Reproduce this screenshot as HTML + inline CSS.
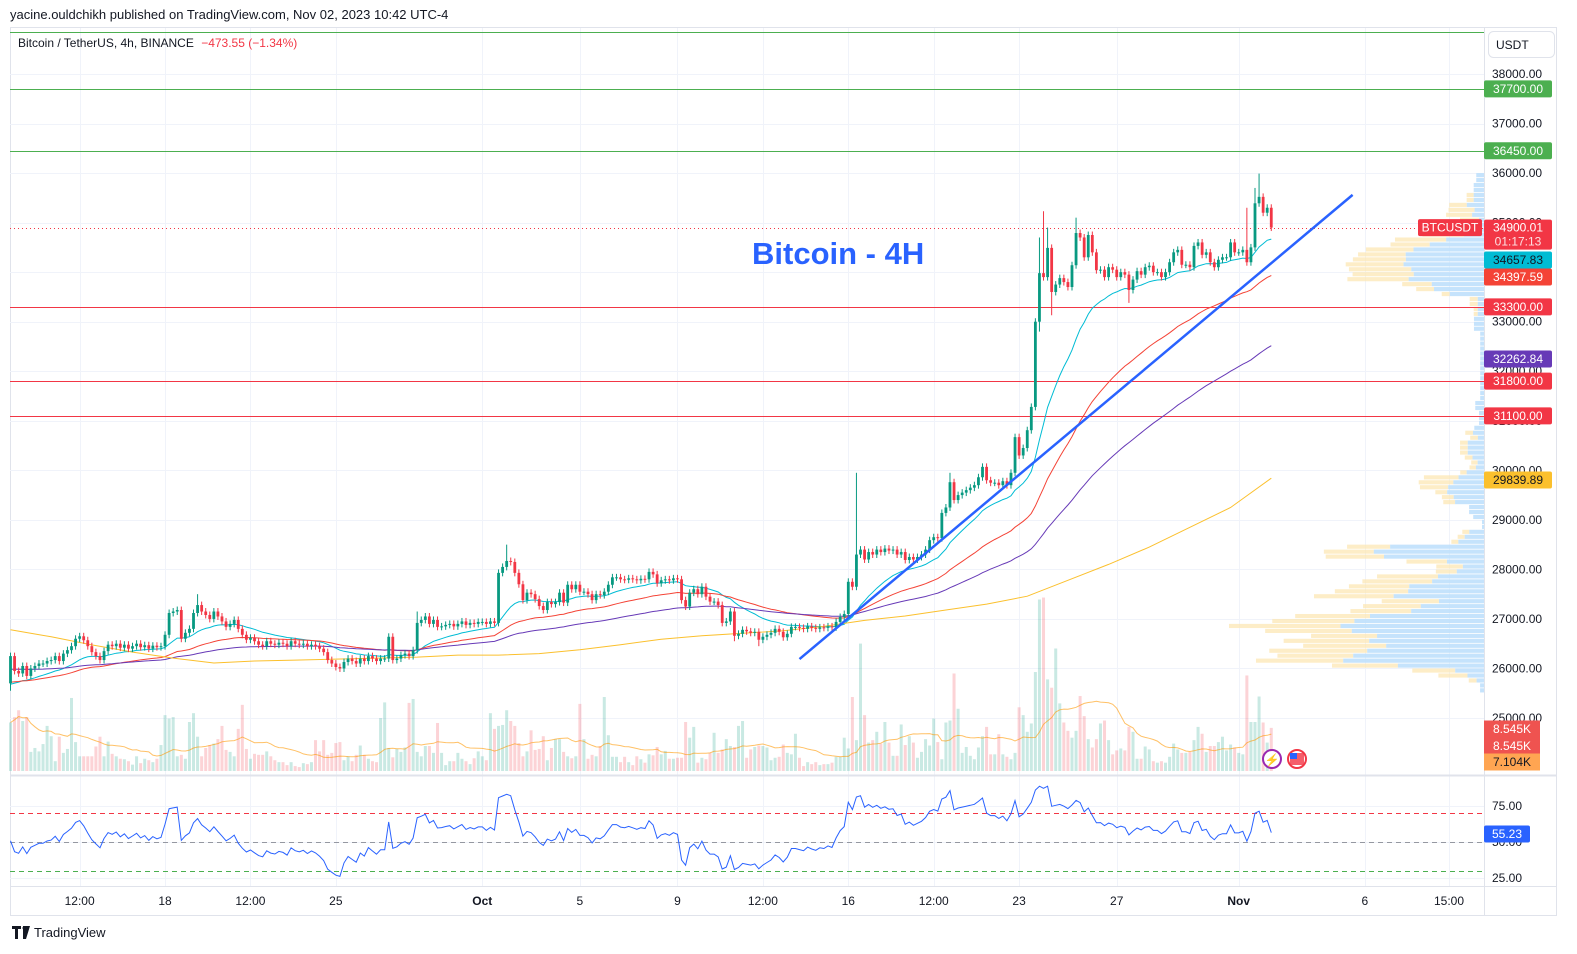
<!DOCTYPE html>
<html><head><meta charset="utf-8"><style>
html,body{margin:0;padding:0;background:#fff;}
svg{display:block;font-family:"Liberation Sans",Arial,sans-serif;}
</style></head><body>
<svg id="chart" width="1577" height="954" viewBox="0 0 1577 954" xmlns="http://www.w3.org/2000/svg">
<rect x="0" y="0" width="1577" height="954" fill="#fff"/>
<text x="10" y="19" font-size="13" fill="#131722">yacine.ouldchikh published on TradingView.com, Nov 02, 2023 10:42 UTC-4</text>
<rect x="10.5" y="27.5" width="1546" height="888" fill="none" stroke="#e0e3eb"/>
<g id="grid"></g>
<g id="profile"></g>
<g id="vol"></g>
<g id="hl"></g>
<g id="ma"></g>
<g id="candles"></g>
<g id="rsi"></g>
<g id="axes"></g>
<text x="18" y="47" font-size="12" fill="#131722">Bitcoin / TetherUS, 4h, BINANCE <tspan fill="#f23645" dx="4">−473.55 (−1.34%)</tspan></text>
<text x="752" y="264" font-size="31" font-weight="bold" fill="#2962ff">Bitcoin - 4H</text>
<g><rect x="1488.5" y="31.5" width="66" height="26" rx="5" fill="#fff" stroke="#e0e3eb"/><text x="1496" y="49" font-size="12" fill="#131722">USDT</text></g>
<g><path d="M12 926h9v3h-3v10h-3v-10h-3z M23 926h3l4 0-4 13h-3z" fill="#131722"/><circle cx="24" cy="928" r="1.5" fill="#131722"/><text x="34" y="937" font-size="13" fill="#131722">TradingView</text></g>
</svg>
<script>
const closes=[
26250,25950,25900,26050,25850,26000,26050,26100,26100,26150,
26170,26250,26150,26300,26370,26450,26600,26650,26570,26450,
26330,26250,26170,26350,26480,26450,26500,26420,26480,26400,
26450,26500,26430,26470,26400,26460,26430,26450,26680,27120,
27150,27180,26600,26720,26800,27120,27280,27150,27080,27000,
27150,27050,26950,26840,26900,26980,26800,26680,26580,26620,
26550,26480,26450,26550,26500,26480,26520,26500,26450,26550,
26500,26480,26500,26450,26480,26450,26400,26330,26170,26100,
26030,26000,26130,26200,26150,26100,26200,26150,26250,26200,
26150,26200,26200,26640,26170,26200,26270,26300,26250,26370,
26920,26980,27050,26900,26980,26840,26850,26880,26900,26850,
26900,26950,26880,26920,26900,26940,26940,26900,26950,26920,
27930,28050,28170,28150,27930,27700,27380,27530,27500,27400,
27260,27180,27340,27300,27340,27530,27330,27690,27600,27690,
27550,27550,27500,27380,27500,27480,27550,27690,27840,27840,
27800,27790,27820,27800,27780,27810,27800,27950,27900,27720,
27780,27800,27780,27820,27800,27380,27250,27530,27600,27500,
27650,27450,27350,27350,27280,26920,26950,27150,26660,26700,
26780,26750,26720,26740,26580,26640,26680,26720,26800,26740,
26630,26700,26840,26840,26820,26800,26850,26820,26800,26830,
26820,26850,26830,26940,27040,27100,27750,27650,28300,28400,
28200,28350,28300,28400,28350,28420,28380,28400,28300,28350,
28190,28250,28200,28250,28300,28400,28590,28650,28630,29140,
29250,29760,29400,29500,29550,29600,29650,29700,29860,30070,
29800,29750,29750,29700,29780,29700,29950,30670,30300,30450,
30810,31280,33000,33980,33900,34490,33600,33750,33880,33800,
33700,34140,34790,34700,34300,34750,34400,34040,34050,33900,
34100,34050,33900,34000,33950,33640,33850,34020,33950,34100,
34130,34000,34000,33900,34000,34200,34400,34450,34150,34150,
34100,34530,34600,34350,34400,34200,34100,34250,34300,34300,
34600,34400,34400,34450,34200,34500,35390,35520,35200,35300,34900];
const firstOpen=25700;
const spikeHighIdx=[46,100,122,208,231,253,254,255,262,304,306,307];
const spikeHighVal=[27500,27150,28500,29950,29950,34700,35230,34900,35100,35300,35700,35990];
const spikeLowIdx=[0,178,184,253,256,275];
const spikeLowVal=[25550,26550,26450,32800,33130,33380];
const volumes=[
9.9,11,12.4,10.2,11,3.9,4.7,4,5.5,9.2,
7.1,2,7,3.7,4.5,14.9,5.9,3,3,3,
3,5,7,3,6,3.5,3,2.5,2.4,2,1.3,
3,1.6,2.5,2.2,1.8,2.5,5.3,11.4,10.7,11,
3,3.3,2.5,10,11.8,7,3,4.7,5.3,5.6,
6.5,9.2,4.3,3.9,3,8.6,13.5,4.5,2.5,3.5,
3.3,3.3,4,3,2.2,1.8,1.8,1.2,1.8,1,
0.8,1.6,1.4,1.8,6.3,4,6.3,3.3,3.7,5.7,
5.9,2.2,3,2,3.3,5.2,3.3,2.5,2,1.8,
10.8,14,4.7,2.8,4.5,3.9,4.8,13.9,14.7,3.9,
3,5.1,5.1,3.7,9.8,3.7,1.2,2,2,3.7,2.5,
2,1.4,2.6,4,3,2.2,11.8,8.6,9.2,9.4,
12.4,10.2,9.2,5.7,3,4,8.3,4.3,4.5,7.1,
2.2,4.7,6.5,6.5,3.9,3,2.6,3,13.7,6.5,
2.5,3.3,3,5.1,15.1,7.3,2.9,2.9,1.8,2.9,
1.8,1.2,3,
2.4,1.7,3.4,3.2,4.9,3.4,4.1,2.5,2.5,2.7,
2.7,10,6.8,9,1.7,2.7,2.4,3.7,7.8,3.7,
4.4,6.5,5.1,4.9,9.2,10.2,2.7,4.4,4.9,5.2,
5.1,4.8,2.2,2.7,2.9,5.4,3.7,3.4,7.6,2.7,
1,1.8,1.4,1.8,1.2,1.4,1.4,1.7,2.9,2.9,
6.8,4.6,15.1,6.3,26,11.4,5.8,6.3,8,5.6,
10,5.8,3.1,3.1,9.5,5.3,7.1,5.8,2.7,3.9,
6.5,5.2,10.7,5.9,2.4,9.9,10.3,19.9,12.7,3.7,
4.9,3.1,2.4,4.8,7.1,9,3.4,3.4,7.5,3.4,
2.9,2.4,3.7,13,11.4,8,9.7,20.2,35,35.4,
18.7,17,25,13.8,9.9,8.2,6.8,8.2,15.3,11.2,
6.5,4.8,6.5,9.7,10.3,6.3,3.4,4.2,4.6,4.2,
9,8,2.5,2.5,5,4.4,2,1.7,2,1.7,
2.9,5.6,4.4,3.7,3.7,3.9,6.3,9,7.6,3.9,
5.1,5.1,5.9,7,4.2,5.4,4.8,3.7,3.4,19.5,
10,10,15.2,9.9,5.8,8.8];
const ma200Idx=[0,10,20,30,40,50,60,70,80,90,100,110,120,130,140,150,160,170,180,190,200,210,220,230,240,250,260,270,280,290,300,310];
const ma200Val=[26780,26640,26475,26330,26210,26110,26150,26170,26190,26210,26230,26270,26270,26300,26380,26480,26590,26660,26710,26760,26850,26970,27060,27180,27300,27460,27780,28100,28450,28850,29250,29840];
const emaLens=[20,50,100];
const emaSeeds=[25620,25700,25980];
const emaColors=['#00bcd4','#f44336','#673ab7'];
const trendIdx=[194,330];
const trendPrice=[26190,35560];
const greenLevels=[38850,37700,36450];
const redLevels=[33300,31800,31100];
const lastPrice=34900.01;
const priceTicks=[38000,37000,36000,35000,34000,33000,32000,31000,30000,29000,28000,27000,26000,25000];
const timeLabelIdx=[17,38,59,80,116,140,164,185,206,227,248,272,302,333,353.7];
const timeLabels=['12:00','18','12:00','25','Oct','5','9','12:00','16','12:00','23','27','Nov','6','15:00'];
const rsiTicks=[75,50,25];
const rsiLevels=[70,50,30];
const rsiSeedGain=30, rsiSeedLoss=70;

const NS='http://www.w3.org/2000/svg';
function mk(tag,attrs,parent){const e=document.createElementNS(NS,tag);for(const k in attrs)e.setAttribute(k,attrs[k]);parent.appendChild(e);return e;}
const xOf=i=>10.5+4.067*i;
const yOf=p=>74+(38000-p)*0.04954;
const vY=v=>771-v*4.9;
const rY=r=>842-(r-50)*1.44;
const G=id=>document.getElementById(id);
const N=closes.length;
const opens=closes.map((c,i)=>i?closes[i-1]:firstOpen);
const highs=closes.map((c,i)=>{const k=spikeHighIdx.indexOf(i);return k>=0?spikeHighVal[k]:Math.max(c,opens[i])+70;});
const lows=closes.map((c,i)=>{const k=spikeLowIdx.indexOf(i);return k>=0?spikeLowVal[k]:Math.min(c,opens[i])-70;});

// grid
const grid=G('grid');
timeLabelIdx.forEach((t,k)=>{const x=Math.round(xOf(t))+0.5;
 const l=mk('line',{x1:x,x2:x,y1:28,y2:886,stroke:'#f0f3fa'},grid);
 
 });
priceTicks.forEach(p=>{const y=Math.round(yOf(p))+0.5;
 const l=mk('line',{x1:10,x2:1484,y1:y,y2:y,stroke:'#f0f3fa'},grid);
 
 });
rsiTicks.forEach(r=>{const y=Math.round(rY(r))+0.5;
 const l=mk('line',{x1:10,x2:1484,y1:y,y2:y,stroke:'#f0f3fa'},grid);
 
 });

// volume profile
const prof=G('profile');
const binSize=100,binLo=24900,nb=112;
const up=new Array(nb).fill(0),dn=new Array(nb).fill(0);
for(let i=0;i<N;i++){const v=volumes[i]||3;const lo=Math.floor((lows[i]-binLo)/binSize),hi=Math.floor((highs[i]-binLo)/binSize);
 const cnt=hi-lo+1;for(let b=lo;b<=hi;b++){if(b<0||b>=nb)continue;if(closes[i]>=opens[i])up[b]+=v/cnt;else dn[b]+=v/cnt;}}
let mx=0;for(let b=0;b<nb;b++)mx=Math.max(mx,up[b]+dn[b]);
for(let b=0;b<nb;b++){const tot=(up[b]+dn[b])/mx*255,uw=up[b]/mx*255;if(tot<0.5)continue;
 const y=yOf(binLo+(b+1)*binSize),h=binSize*0.04954-0.8;
 const r1=mk('rect',{x:1484-tot,y:y,width:tot-uw,height:h,fill:'#fce7b4','fill-opacity':0.75},prof);
 
 
 const r2=mk('rect',{x:1484-uw,y:y,width:uw,height:h,fill:'#bbdefb','fill-opacity':0.85},prof);
 
 }

// volume bars
const vol=G('vol');
for(let i=0;i<N;i++){const v=volumes[i]||3;const upc=closes[i]>=opens[i];
 const r=mk('rect',{x:xOf(i)-1.5,y:vY(v),width:3,height:771-vY(v),fill:upc?'#089981':'#f23645','fill-opacity':0.22},vol);
 
 }
let vpts=[];for(let i=0;i<N;i++){let s=0,c=0;for(let j=Math.max(0,i-19);j<=i;j++){s+=volumes[j]||3;c++;}vpts.push(xOf(i).toFixed(1)+','+vY(s/c).toFixed(1));}
const vma=mk('polyline',{points:vpts.join(' '),fill:'none',stroke:'#ff9800','stroke-opacity':0.6,'stroke-width':1},vol);



// horizontal levels
const hl=G('hl');
greenLevels.forEach(p=>{const y=Math.round(yOf(p))+0.5;
 const l=mk('line',{x1:10,x2:1484,y1:y,y2:y,stroke:'#4caf50','stroke-width':1},hl);
 
 });
redLevels.forEach(p=>{const y=Math.round(yOf(p))+0.5;
 const l=mk('line',{x1:10,x2:1484,y1:y,y2:y,stroke:'#f23645','stroke-width':1},hl);
 
 });
{const y=Math.round(yOf(lastPrice))+0.5;
 const l=mk('line',{x1:10,x2:1484,y1:y,y2:y,stroke:'#f23645','stroke-dasharray':'1,3'},hl);
 
 }

// moving averages
const ma=G('ma');
emaLens.forEach((len,k)=>{let e=emaSeeds[k];const pts=[];
 for(let i=0;i<N;i++){e=e+(closes[i]-e)*2/(len+1);pts.push(xOf(i).toFixed(1)+','+yOf(e).toFixed(1));}
 const pl=mk('polyline',{points:pts.join(' '),fill:'none',stroke:emaColors[k],'stroke-width':1},ma);
 
 });
{const pts=ma200Idx.map((t,k)=>xOf(t).toFixed(1)+','+yOf(ma200Val[k]).toFixed(1));
 const pl=mk('polyline',{points:pts.join(' '),fill:'none',stroke:'#fbc02d','stroke-width':1},ma);
 
 }

// candles
const cg=G('candles');
for(let i=0;i<N;i++){const o=opens[i],c=closes[i],col=c>=o?'#089981':'#f23645',x=xOf(i);
 const w=mk('line',{x1:x,x2:x,y1:yOf(highs[i]),y2:yOf(lows[i]),stroke:col,'stroke-width':1},cg);
 
 
 const yt=yOf(Math.max(o,c)),yb=yOf(Math.min(o,c));
 const b=mk('rect',{x:x-1.4,y:yt,width:2.8,height:Math.max(1,yb-yt),fill:col},cg);
 
 }
{const t=mk('line',{x1:xOf(trendIdx[0]),y1:yOf(trendPrice[0]),x2:xOf(trendIdx[1]),y2:yOf(trendPrice[1]),stroke:'#2962ff','stroke-width':2.5},cg);
 
 }

// RSI
const rg=G('rsi');
const rcols=['#f23645','#9598a1','#4caf50'];
rsiLevels.forEach((r,k)=>{const y=Math.round(rY(r))+0.5;
 const l=mk('line',{x1:10,x2:1484,y1:y,y2:y,stroke:rcols[k],'stroke-dasharray':'5,4','stroke-width':1},rg);
 
 });
{let ag=rsiSeedGain,al=rsiSeedLoss;const pts=[];
 for(let i=0;i<N;i++){const ch=closes[i]-opens[i];ag=(ag*13+Math.max(ch,0))/14;al=(al*13+Math.max(-ch,0))/14;
  const r=100-100/(1+ag/al);pts.push(xOf(i).toFixed(1)+','+rY(r).toFixed(1));}
 const pl=mk('polyline',{points:pts.join(' '),fill:'none',stroke:'#2962ff','stroke-width':1},rg);
 
 }

// axes
const ax=G('axes');
{const s=mk('line',{x1:1484.5,x2:1484.5,y1:28,y2:915,stroke:'#e0e3eb'},ax);
 
 
 const p=mk('line',{x1:10,x2:1557,y1:775.5,y2:775.5,stroke:'#e0e3eb','stroke-width':2},ax);
 
 
 const t=mk('line',{x1:10,x2:1557,y1:886.5,y2:886.5,stroke:'#e0e3eb'},ax);
 
 }
priceTicks.forEach(p=>{const t=mk('text',{x:1492,y:yOf(p)+4,'font-size':12,fill:'#131722'},ax);t.textContent=p.toFixed(2);
 
 });
rsiTicks.forEach(r=>{const t=mk('text',{x:1492,y:rY(r)+4,'font-size':12,fill:'#131722'},ax);t.textContent=r.toFixed(2);
 
 });
timeLabels.forEach((s,k)=>{const t=mk('text',{x:xOf(timeLabelIdx[k]),y:905,'font-size':12,fill:'#131722','text-anchor':'middle','font-weight':(s==='Oct'||s==='Nov')?'bold':'normal'},ax);t.textContent=s;
 
 });
const tagTexts=['37700.00','36450.00','34657.83','34397.59','33300.00','32262.84','31800.00','31100.00','29839.89','55.23'];
const tagYs=[yOf(37700),yOf(36450),260,277,yOf(33300),359,yOf(31800),yOf(31100),480,834];
const tagFills=['#4caf50','#4caf50','#00bcd4','#f44336','#f23645','#673ab7','#f23645','#f23645','#fbc02d','#2962ff'];
const tagInk=['#fff','#fff','#131722','#fff','#fff','#fff','#fff','#fff','#131722','#fff'];
tagTexts.forEach((s,k)=>{const y=tagYs[k];const w=(s==='55.23')?46:68;
 const r=mk('rect',{x:1484,y:y-8.5,width:w,height:17,rx:2,fill:tagFills[k]},ax);
 
 
 const t=mk('text',{x:1484+w/2,y:y+4,'font-size':12,fill:tagInk[k],'text-anchor':'middle'},ax);t.textContent=s;
 
 });
{const y=yOf(lastPrice);
 const r=mk('rect',{x:1484,y:y-8,width:68,height:30,rx:2,fill:'#f23645'},ax);
 
 
 const t1=mk('text',{x:1518,y:y+4,'font-size':12,fill:'#fff','text-anchor':'middle'},ax);t1.textContent=lastPrice.toFixed(2);
 
 
 const t2=mk('text',{x:1518,y:y+18,'font-size':12,fill:'#fff','fill-opacity':0.85,'text-anchor':'middle'},ax);t2.textContent='01:17:13';
 
 
 const b=mk('rect',{x:1418,y:y-8.5,width:64,height:17,rx:2,fill:'#f23645'},ax);
 
 
 const bt=mk('text',{x:1450,y:y+4,'font-size':12,fill:'#fff','text-anchor':'middle'},ax);bt.textContent='BTCUSDT';
 
 }
const volTagTexts=['8.545K','8.545K','7.104K'];
const volTagYs=[729,746,762];
const volTagFills=['#ef5350','#ef5350','#ffa552'];
volTagTexts.forEach((s,k)=>{const y=volTagYs[k];
 const r=mk('rect',{x:1484,y:y-8.5,width:56,height:17,fill:volTagFills[k]},ax);
 
 
 const t=mk('text',{x:1512,y:y+4,'font-size':12,fill:k===2?'#131722':'#fff','text-anchor':'middle'},ax);t.textContent=s;
 
 });
{const c1=mk('circle',{cx:1272,cy:759,r:9,fill:'#fff',stroke:'#9c27b0','stroke-width':2},ax);
 
 
 const l1=mk('text',{x:1272,y:764,'font-size':12,fill:'#9c27b0','text-anchor':'middle'},ax);l1.textContent='⚡';
 
 
 const c2=mk('circle',{cx:1297,cy:759,r:9,fill:'#fff',stroke:'#f23645','stroke-width':2},ax);
 
 
 const f1=mk('rect',{x:1290,y:753,width:14,height:12,fill:'#f23645','fill-opacity':0.8},ax);
 
 
 const f2=mk('rect',{x:1290,y:753,width:7,height:6,fill:'#2962ff'},ax);
 
 }
</script>
</body></html>
